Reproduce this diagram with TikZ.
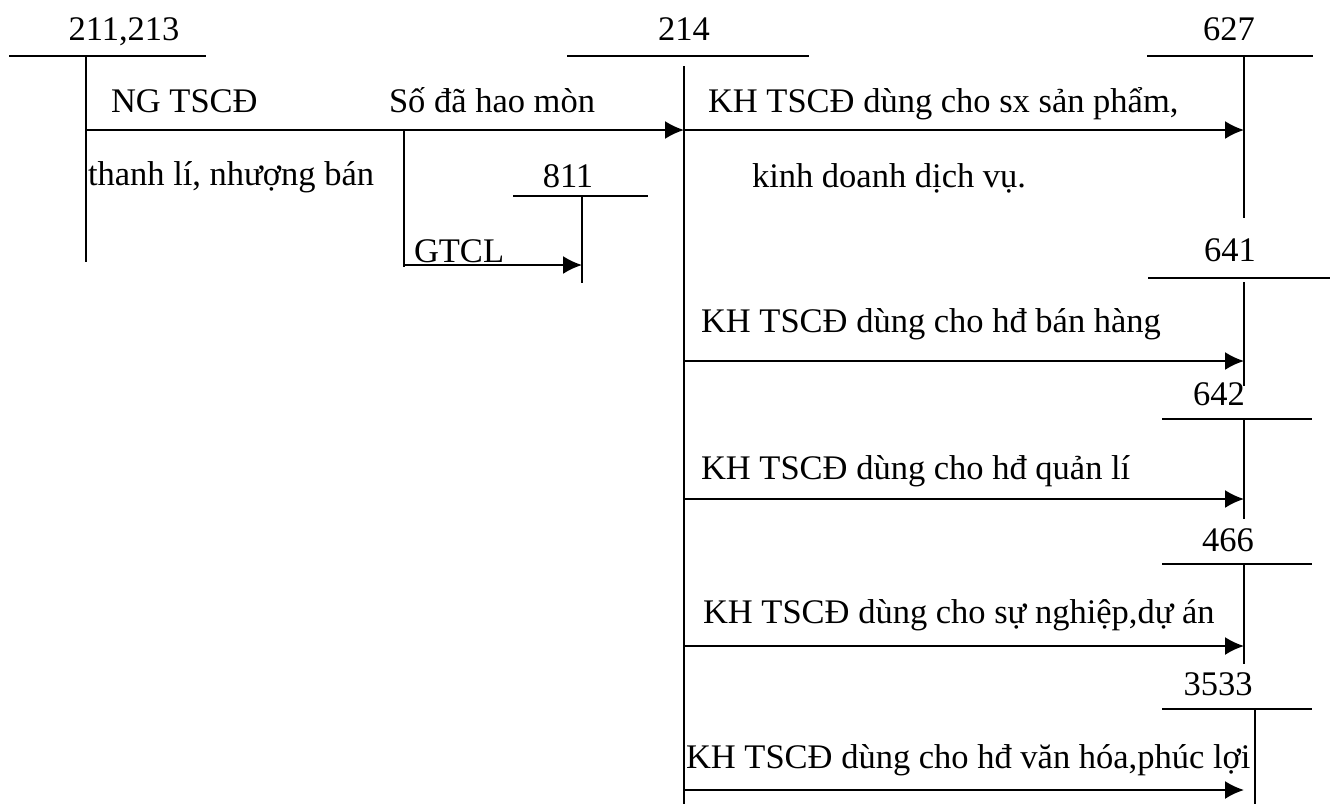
\documentclass[tikz,border=0pt]{standalone}
\usepackage{fontspec}
\setmainfont{Liberation Serif}
\usepackage{tikz}
\usetikzlibrary{positioning,arrows.meta}

\begin{document}
\begin{tikzpicture}[x=1pt, y=-1pt, >={Latex[length=19pt,width=18pt]},
line width=2pt, every node/.style={inner sep=0pt, font=\fontsize{34.5}{40}\selectfont},
acct/.style={anchor=base}, txt/.style={anchor=base west}]
\useasboundingbox (0,0) rectangle (1333,804);
% account headers
\node[acct] (n211) at (124,40) {211,213};
\node[acct] (n214) at (684,40) {214};
\node[acct] (n627) at (1229,40) {627};
\node[acct] (n811) at (568,187) {811};
\node[acct] (n641) at (1230,261) {641};
\node[acct] (n642) at (1219,405) {642};
\node[acct] (n466) at (1228,551) {466};
\node[acct] (n3533) at (1218,695) {3533};
% T lines
\draw (9,56) -- (206,56) (86,56) coordinate (t211) -- (86,262);
\draw (567,56) -- (809,56) (684,66) -- (684,804);
\draw (1147,56) -- (1313,56) (1244,56) -- (1244,218);
\draw (513,196) -- (648,196) (582,196) -- (582,283);
\draw (1148,278) -- (1330,278) (1244,282) -- (1244,386);
\draw (1162,419) -- (1312,419) (1244,419) -- (1244,519);
\draw (1162,564) -- (1312,564) (1244,564) -- (1244,664);
\draw (1162,709) -- (1312,709) (1255,709) -- (1255,804);
% arrow ends
\coordinate (a211) at (86,130);
\coordinate (a214) at (684,130);
\coordinate (a627) at (1244,130);
\coordinate (split) at (404,130);
\coordinate (gtcl) at (404,265);
\coordinate (a811) at (582,265);
\coordinate (b214) at (684,361);
\coordinate (a641) at (1244,361);
\coordinate (c214) at (684,499);
\coordinate (a642) at (1244,499);
\coordinate (d214) at (684,646);
\coordinate (a466) at (1244,646);
\coordinate (e214) at (684,790);
\coordinate (a3533) at (1244,790);
\draw[->] (a211) -- (a214);
\draw[->] (a214) -- (a627);
\draw (split) -- ++(0,137);
\draw[->] (gtcl) -- (a811);
\draw[->] (b214) -- (a641);
\draw[->] (c214) -- (a642);
\draw[->] (d214) -- (a466);
\draw[->] (e214) -- (a3533);
% labels
\node[txt] (ng) at (110,112) {NG TSCĐ};
\node[txt] (hm) at (388,112) {Số đã hao mòn};
\node[txt] (tl) at (87,185) {thanh lí, nhượng bán};
\node[txt] (gt) at (413,262) {GTCL};
\node[txt] (sx) at (707,112) {KH TSCĐ dùng cho sx sản phẩm,};
\node[txt] (kd) at (751,187) {kinh doanh dịch vụ.};
\node[txt] (bh) at (700,332) {KH TSCĐ dùng cho hđ bán hàng};
\node[txt] (ql) at (700,479) {KH TSCĐ dùng cho hđ quản lí};
\node[txt] (sn) at (702,623) {KH TSCĐ dùng cho sự nghiệp,dự án};
\node[txt] (vh) at (685,768) {KH TSCĐ dùng cho hđ văn hóa,phúc lợi};
\end{tikzpicture}
\end{document}
